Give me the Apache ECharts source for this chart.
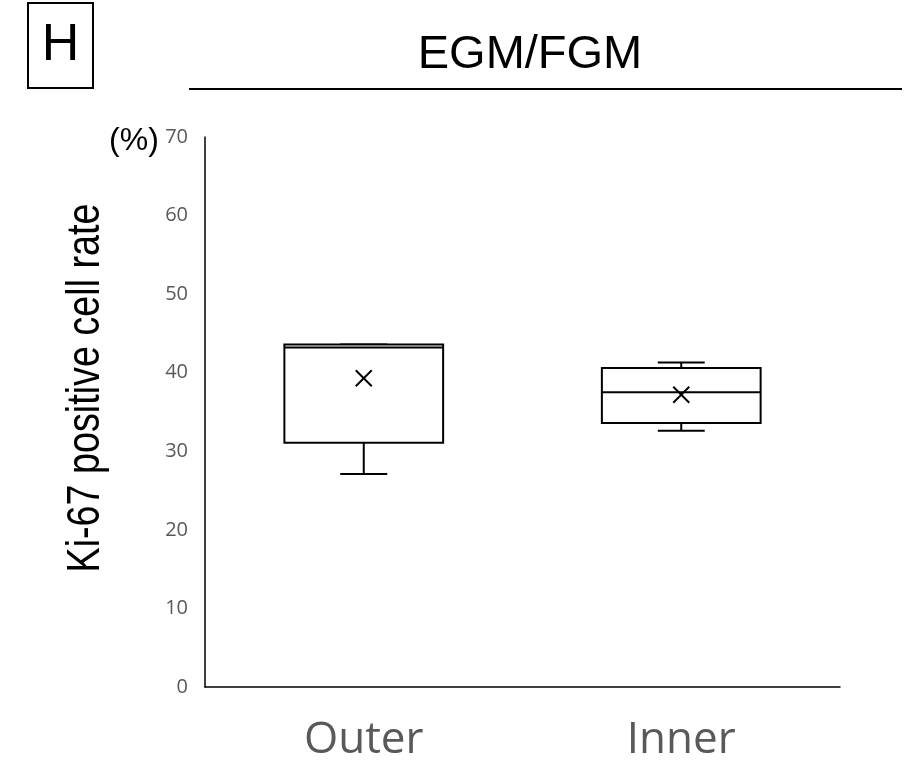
<!DOCTYPE html>
<html>
<head>
<meta charset="utf-8">
<script src="https://cdn.jsdelivr.net/npm/echarts@6/dist/echarts.min.js"></script>
<style>
html,body{margin:0;padding:0;background:#fff;}
#chart{width:917px;height:780px;}
</style>
</head>
<body>
<div id="chart"></div>
<script>
var categories = ['Outer', 'Inner'];
var mins    = [27.1, 32.6];
var q1s     = [31.1, 33.6];
var medians = [43.2, 37.5];
var q3s     = [43.6, 40.6];
var maxs    = [43.6, 41.3];
var means   = [39.3, 37.2];
var yMin = 0, yMax = 70, yStep = 10;

var boxData = categories.map(function (c, i) {
  return [i, mins[i], q1s[i], medians[i], q3s[i], maxs[i], means[i]];
});

var chart = echarts.init(document.getElementById('chart'));

function renderBox(params, api) {
  var i = api.value(0);
  var pMin = api.coord([i, api.value(1)]);
  var pQ1 = api.coord([i, api.value(2)]);
  var pMed = api.coord([i, api.value(3)]);
  var pQ3 = api.coord([i, api.value(4)]);
  var pMax = api.coord([i, api.value(5)]);
  var pMean = api.coord([i, api.value(6)]);
  var band = api.size([1, 0])[0];
  var bw = band * 0.5;
  var cw = band * 0.148;
  var cx = pQ1[0];
  var st = {stroke: '#000', lineWidth: 2, fill: null};
  var m = 8;
  return {
    type: 'group',
    children: [
      {type: 'line', shape: {x1: cx, y1: pQ3[1], x2: cx, y2: pMax[1]}, style: st},
      {type: 'line', shape: {x1: cx, y1: pQ1[1], x2: cx, y2: pMin[1]}, style: st},
      {type: 'line', shape: {x1: cx - cw / 2, y1: pMax[1], x2: cx + cw / 2, y2: pMax[1]}, style: st},
      {type: 'line', shape: {x1: cx - cw / 2, y1: pMin[1], x2: cx + cw / 2, y2: pMin[1]}, style: st},
      {type: 'rect', shape: {x: cx - bw / 2, y: pQ3[1], width: bw, height: pQ1[1] - pQ3[1]},
        style: {stroke: '#000', lineWidth: 2, fill: '#fff'}},
      {type: 'line', shape: {x1: cx - bw / 2, y1: pMed[1], x2: cx + bw / 2, y2: pMed[1]}, style: st},
      {type: 'line', shape: {x1: pMean[0] - m, y1: pMean[1] - m, x2: pMean[0] + m, y2: pMean[1] + m}, style: st},
      {type: 'line', shape: {x1: pMean[0] - m, y1: pMean[1] + m, x2: pMean[0] + m, y2: pMean[1] - m}, style: st}
    ]
  };
}

chart.setOption({
  backgroundColor: '#fff',
  animation: false,
  grid: {left: 205, right: 77, top: 137, bottom: 93, containLabel: false},
  xAxis: {
    type: 'category',
    data: categories,
    boundaryGap: true,
    axisLine: {show: true, lineStyle: {color: '#000', width: 1.5}},
    axisTick: {show: false},
    axisLabel: {color: '#595959', fontSize: 44, fontFamily: 'Open Sans', margin: 31}
  },
  yAxis: {
    type: 'value',
    min: yMin, max: yMax, interval: yStep,
    axisLine: {show: true, lineStyle: {color: '#000', width: 1.5}},
    axisTick: {show: false},
    splitLine: {show: false},
    axisLabel: {color: '#595959', fontSize: 20, fontFamily: 'Open Sans', margin: 17}
  },
  graphic: [
    {type: 'rect', shape: {x: 28, y: 3, width: 65, height: 85}, style: {stroke: '#000', lineWidth: 2, fill: '#fff'}},
    {type: 'text', x: 60.5, y: 46, style: {text: 'H', fontSize: 52, fontFamily: 'Liberation Sans', fill: '#000', align: 'center', verticalAlign: 'middle'}},
    {type: 'text', x: 530, y: 55, style: {text: 'EGM/FGM', fontSize: 47, fontFamily: 'Liberation Sans', fill: '#000', align: 'center', verticalAlign: 'middle'}},
    {type: 'line', shape: {x1: 189, y1: 89, x2: 902, y2: 89}, style: {stroke: '#000', lineWidth: 2}},
    {type: 'text', x: 134, y: 141, style: {text: '(%)', fontSize: 32, fontFamily: 'Liberation Sans', fill: '#000', align: 'center', verticalAlign: 'middle'}},
    {type: 'text', x: 86.5, y: 388, rotation: Math.PI / 2, scaleX: 0.82,
      style: {text: 'Ki-67 positive cell rate', fontSize: 46, fontFamily: 'Liberation Sans', fill: '#000', align: 'center', verticalAlign: 'middle'}}
  ],
  series: [{
    type: 'custom',
    renderItem: renderBox,
    data: boxData,
    encode: {x: 0, y: [1, 2, 3, 4, 5, 6]}
  }]
});
</script>
</body>
</html>
